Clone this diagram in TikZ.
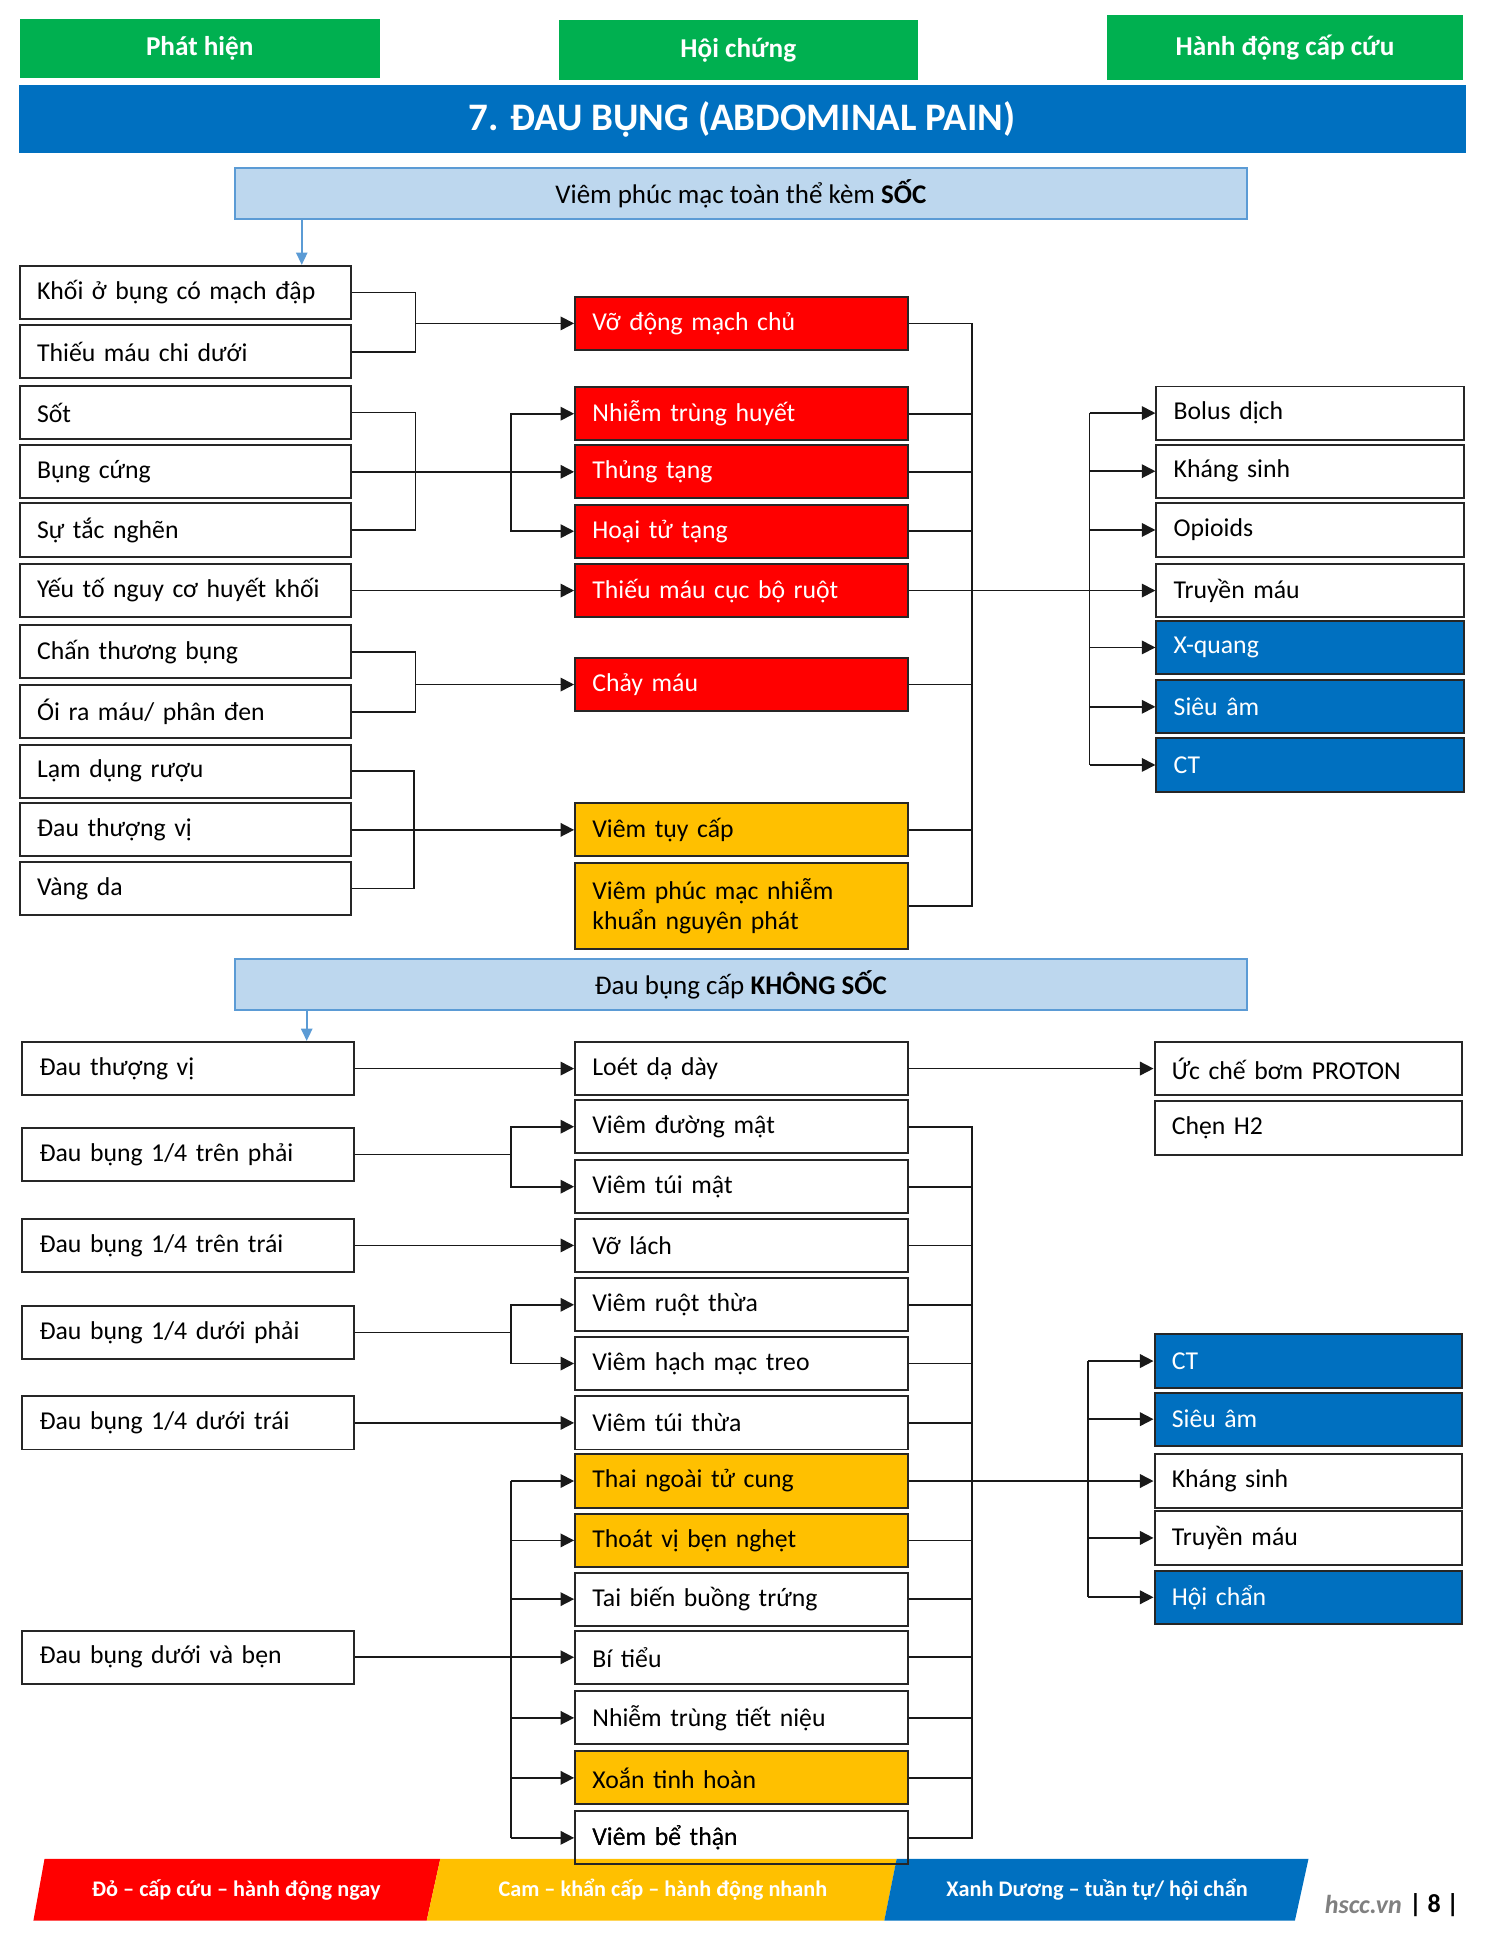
\documentclass[tikz,border=0pt]{standalone}
\usepackage{fontspec}
\setmainfont{Carlito}
\usetikzlibrary{arrows.meta}

\definecolor{hdrgreen}{HTML}{00B050}
\definecolor{ttlblue}{HTML}{0070C0}
\definecolor{banblue}{HTML}{BDD7EE}
\definecolor{banline}{HTML}{5B9BD5}
\definecolor{redbox}{HTML}{FF0000}
\definecolor{orgbox}{HTML}{FFC000}

\tikzset{
  box/.style={shape=rectangle, draw=black!85, line width=1.6pt, minimum height=43pt,
    inner xsep=14pt, inner ysep=2pt, align=left, font=\fontsize{20.8}{24.5}\selectfont},
  lbox/.style={box, text width=240pt},
  mbox/.style={box, text width=241pt},
  rbox/.style={box, text width=221pt},
  urgent/.style={fill=redbox, text=white},
  prompt/.style={fill=orgbox},
  consult/.style={fill=ttlblue, text=white},
  header/.style={fill=hdrgreen, text=white, inner sep=0pt, font=\fontsize{22}{26}\selectfont\bfseries},
  banner/.style={shape=rectangle, fill=banblue, draw=banline, line width=1.5pt,
    minimum width=818pt, minimum height=41pt, font=\fontsize{21.8}{25}\selectfont},
  link/.style={draw=black!90, line width=1.4pt},
  arr/.style={link, -{Triangle[length=11pt,width=11pt]}},
  bluearr/.style={draw=banline, line width=1.8pt, -{Triangle[length=10pt,width=9pt]}},
  legend/.style={text=white, font=\fontsize{18}{21}\selectfont\bfseries},
}

\begin{document}
\begin{tikzpicture}[x=1pt,y=-1pt]
  \useasboundingbox (0,0) rectangle (1200,1567);

  % headers
  \node[header, minimum width=291pt, minimum height=48pt] (hphat) at (161.5,39) {Phát hiện};
  \node[header, minimum width=290pt, minimum height=49pt] (hhoi) at (597,40.5) {Hội chứng};
  \node[header, minimum width=288pt, minimum height=53pt] (hhanh) at (1039,38.5) {Hành động cấp cứu};
  \node[fill=ttlblue, text=white, minimum width=1170pt, minimum height=55pt, inner sep=0pt,
    font=\fontsize{31.5}{35}\selectfont\bfseries] (title) at (600,96.5) {7. ĐAU BỤNG (ABDOMINAL PAIN)};

  % --- soc ---
  \node[banner] (ban1) at (599,156.5) {Viêm phúc mạc toàn thể kèm \textbf{SỐC}};

  \node[lbox] (khoi) at (150,236.5) {Khối ở bụng có mạch đập};
  \node[lbox] (thieuchi) at (150,284.5) {Thiếu máu chi dưới};
  \node[lbox] (sot) at (150,333.5) {Sốt};
  \node[lbox] (bungcung) at (150,381.5) {Bụng cứng};
  \node[lbox] (tacnghen) at (150,428.5) {Sự tắc nghẽn};
  \node[lbox] (yeuto) at (150,477.5) {Yếu tố nguy cơ huyết khối};
  \node[lbox] (chanthuong) at (150,527) {Chấn thương bụng};
  \node[lbox] (oira) at (150,575.5) {Ói ra máu/ phân đen};
  \node[lbox] (lamdung) at (150,623.5) {Lạm dụng rượu};
  \node[lbox] (dauthuong) at (150,671) {Đau thượng vị};
  \node[lbox] (vangda) at (150,718.5) {Vàng da};

  \node[mbox, urgent] (vodmc) at (599.5,261.5) {Vỡ động mạch chủ};
  \node[mbox, urgent] (nhiemtrung) at (599.5,334.5) {Nhiễm trùng huyết};
  \node[mbox, urgent] (thungtang) at (599.5,381.5) {Thủng tạng};
  \node[mbox, urgent] (hoaitu) at (599.5,429.5) {Hoại tử tạng};
  \node[mbox, urgent] (thieucuc) at (599.5,477.5) {Thiếu máu cục bộ ruột};
  \node[mbox, urgent] (chaymau) at (599.5,553.5) {Chảy máu};
  \node[mbox, prompt] (viemtuy) at (599.5,671) {Viêm tụy cấp};
  \node[mbox, prompt, minimum height=69pt] (viempm) at (599.5,732.5) {Viêm phúc mạc nhiễm\\khuẩn nguyên phát};

  \node[rbox] (bolus) at (1059.5,334) {Bolus dịch};
  \node[rbox] (khangsinh) at (1059.5,381) {Kháng sinh};
  \node[rbox] (opioids) at (1059.5,428.5) {Opioids};
  \node[rbox] (truyenmau) at (1059.5,477.5) {Truyền máu};
  \node[rbox, consult] (xquang) at (1059.5,523.5) {X-quang};
  \node[rbox, consult] (sieuam) at (1059.5,571.5) {Siêu âm};
  \node[rbox, consult] (ct) at (1059.5,618.5) {CT};

  \coordinate (ban1in) at (244,0);
  \draw[bluearr] (ban1.south -| ban1in) -- (khoi.north -| ban1in);

  \coordinate (ja) at (336,261.5);
  \draw[link] (khoi.east) -| (ja) |- (thieuchi.east);
  \draw[arr] (ja) -- (vodmc.west);
  \coordinate (jb) at (336,381.5);
  \coordinate (jc) at (413,381.5);
  \draw[link] (sot.east) -| (jb) |- (tacnghen.east);
  \draw[arr] (bungcung.east) -- (thungtang.west);
  \draw[arr] (jc) |- (nhiemtrung.west);
  \draw[arr] (jc) |- (hoaitu.west);
  \draw[arr] (yeuto.east) -- (thieucuc.west);
  \coordinate (jd) at (336,553.5);
  \draw[link] (chanthuong.east) -| (jd) |- (oira.east);
  \draw[arr] (jd) -- (chaymau.west);
  \coordinate (je) at (335,671);
  \draw[link] (lamdung.east) -| (je) |- (vangda.east);
  \draw[arr] (dauthuong.east) -- (viemtuy.west);

  \coordinate (busa) at (786,0);
  \draw[link] (vodmc.east) -| (busa |- viempm.east) -- (viempm.east);
  \draw[link] (nhiemtrung.east) -- (nhiemtrung.east -| busa);
  \draw[link] (thungtang.east) -- (thungtang.east -| busa);
  \draw[link] (hoaitu.east) -- (hoaitu.east -| busa);
  \draw[link] (chaymau.east) -- (chaymau.east -| busa);
  \draw[link] (viemtuy.east) -- (viemtuy.east -| busa);
  \draw[arr] (thieucuc.east) -- (truyenmau.west);
  \coordinate (busb) at (881,0);
  \draw[link] (bolus.west -| busb) -- (ct.west -| busb);
  \draw[arr] (bolus.west -| busb) -- (bolus.west);
  \draw[arr] (khangsinh.west -| busb) -- (khangsinh.west);
  \draw[arr] (opioids.west -| busb) -- (opioids.west);
  \draw[arr] (xquang.west -| busb) -- (xquang.west);
  \draw[arr] (sieuam.west -| busb) -- (sieuam.west);
  \draw[arr] (ct.west -| busb) -- (ct.west);

  % --- khong soc ---
  \node[banner] (ban2) at (599,796) {Đau bụng cấp \textbf{KHÔNG SỐC}};

  \node[lbox] (dtv) at (152,864) {Đau thượng vị};
  \node[lbox] (trenphai) at (152,933.5) {Đau bụng 1/4 trên phải};
  \node[lbox] (trentrai) at (152,1007) {Đau bụng 1/4 trên trái};
  \node[lbox] (duoiphai) at (152,1077.5) {Đau bụng 1/4 dưới phải};
  \node[lbox] (duoitrai) at (152,1150.5) {Đau bụng 1/4 dưới trái};
  \node[lbox] (duoiben) at (152,1340) {Đau bụng dưới và bẹn};

  \node[mbox] (loet) at (599.5,864) {Loét dạ dày};
  \node[mbox] (duongmat) at (599.5,911) {Viêm đường mật};
  \node[mbox] (tuimat) at (599.5,959.5) {Viêm túi mật};
  \node[mbox] (volach) at (599.5,1007) {Vỡ lách};
  \node[mbox] (ruotthua) at (599.5,1055) {Viêm ruột thừa};
  \node[mbox] (hachmac) at (599.5,1102.5) {Viêm hạch mạc treo};
  \node[mbox] (tuithua) at (599.5,1150.5) {Viêm túi thừa};
  \node[mbox, prompt] (thaingoai) at (599.5,1197.5) {Thai ngoài tử cung};
  \node[mbox, prompt] (thoatvi) at (599.5,1245.5) {Thoát vị bẹn nghẹt};
  \node[mbox] (taibien) at (599.5,1293) {Tai biến buồng trứng};
  \node[mbox] (bitieu) at (599.5,1340) {Bí tiểu};
  \node[mbox] (tietnieu) at (599.5,1389) {Nhiễm trùng tiết niệu};
  \node[mbox, prompt] (xoan) at (599.5,1437.5) {Xoắn tinh hoàn};
  \node[mbox] (bethan) at (599.5,1486) {Viêm bể thận};

  \node[rbox] (ucche) at (1058,864) {Ức chế bơm PROTON};
  \node[rbox] (chenh) at (1058,912) {Chẹn H2};
  \node[rbox, consult] (ctb) at (1058,1100.5) {CT};
  \node[rbox, consult] (sieuamb) at (1058,1147.5) {Siêu âm};
  \node[rbox] (khangsinhb) at (1058,1197.5) {Kháng sinh};
  \node[rbox] (truyenmaub) at (1058,1243.5) {Truyền máu};
  \node[rbox, consult] (hoichan) at (1058,1291.5) {Hội chẩn};

  \coordinate (ban2in) at (248,0);
  \draw[bluearr] (ban2.south -| ban2in) -- (dtv.north -| ban2in);

  \draw[arr] (dtv.east) -- (loet.west);
  \draw[arr] (loet.east) -- (ucche.west);
  \coordinate (jf) at (413,933.5);
  \draw[link] (trenphai.east) -- (jf);
  \draw[arr] (jf) |- (duongmat.west);
  \draw[arr] (jf) |- (tuimat.west);
  \draw[arr] (trentrai.east) -- (volach.west);
  \coordinate (jg) at (413,1077.5);
  \draw[link] (duoiphai.east) -- (jg);
  \draw[arr] (jg) |- (ruotthua.west);
  \draw[arr] (jg) |- (hachmac.west);
  \draw[arr] (duoitrai.east) -- (tuithua.west);
  \coordinate (jh) at (413,0);
  \draw[arr] (duoiben.east) -- (bitieu.west);
  \draw[link] (thaingoai.west -| jh) -- (bethan.west -| jh);
  \draw[arr] (thaingoai.west -| jh) -- (thaingoai.west);
  \draw[arr] (thoatvi.west -| jh) -- (thoatvi.west);
  \draw[arr] (taibien.west -| jh) -- (taibien.west);
  \draw[arr] (tietnieu.west -| jh) -- (tietnieu.west);
  \draw[arr] (xoan.west -| jh) -- (xoan.west);
  \draw[arr] (bethan.west -| jh) -- (bethan.west);

  \coordinate (busc) at (786,0);
  \draw[link] (duongmat.east) -| (busc |- bethan.east) -- (bethan.east);
  \draw[link] (tuimat.east) -- (tuimat.east -| busc);
  \draw[link] (volach.east) -- (volach.east -| busc);
  \draw[link] (ruotthua.east) -- (ruotthua.east -| busc);
  \draw[link] (hachmac.east) -- (hachmac.east -| busc);
  \draw[link] (tuithua.east) -- (tuithua.east -| busc);
  \draw[link] (thoatvi.east) -- (thoatvi.east -| busc);
  \draw[link] (taibien.east) -- (taibien.east -| busc);
  \draw[link] (bitieu.east) -- (bitieu.east -| busc);
  \draw[link] (tietnieu.east) -- (tietnieu.east -| busc);
  \draw[link] (xoan.east) -- (xoan.east -| busc);
  \draw[arr] (thaingoai.east) -- (khangsinhb.west);
  \coordinate (busd) at (880,0);
  \draw[link] (ctb.west -| busd) -- (hoichan.west -| busd);
  \draw[arr] (ctb.west -| busd) -- (ctb.west);
  \draw[arr] (sieuamb.west -| busd) -- (sieuamb.west);
  \draw[arr] (truyenmaub.west -| busd) -- (truyenmaub.west);
  \draw[arr] (hoichan.west -| busd) -- (hoichan.west);

  % legend
  \fill[redbox] (36,1503) -- (356,1503) -- (345,1553) -- (27,1553) -- cycle;
  \fill[orgbox] (356,1503) -- (725,1503) -- (715,1553) -- (345,1553) -- cycle;
  \fill[ttlblue] (725,1503) -- (1058,1503) -- (1047,1553) -- (715,1553) -- cycle;
  \node[mbox] at (599.5,1486) {Viêm bể thận};
  \node[legend] (lgred) at (191,1528) {Đỏ – cấp cứu – hành động ngay};
  \node[legend] (lgorg) at (536,1528) {Cam – khẩn cấp – hành động nhanh};
  \node[legend] (lgblue) at (887,1528) {Xanh Dương – tuần tự/ hội chẩn};
  \node[text=gray, font=\fontsize{21}{25}\selectfont\bfseries\itshape, anchor=east] (site) at (1137,1540) {hscc.vn};
  \node[font=\fontsize{21}{25}\selectfont\bfseries, anchor=west] (page) at (1136,1540) {| 8 |};
\end{tikzpicture}
\end{document}
